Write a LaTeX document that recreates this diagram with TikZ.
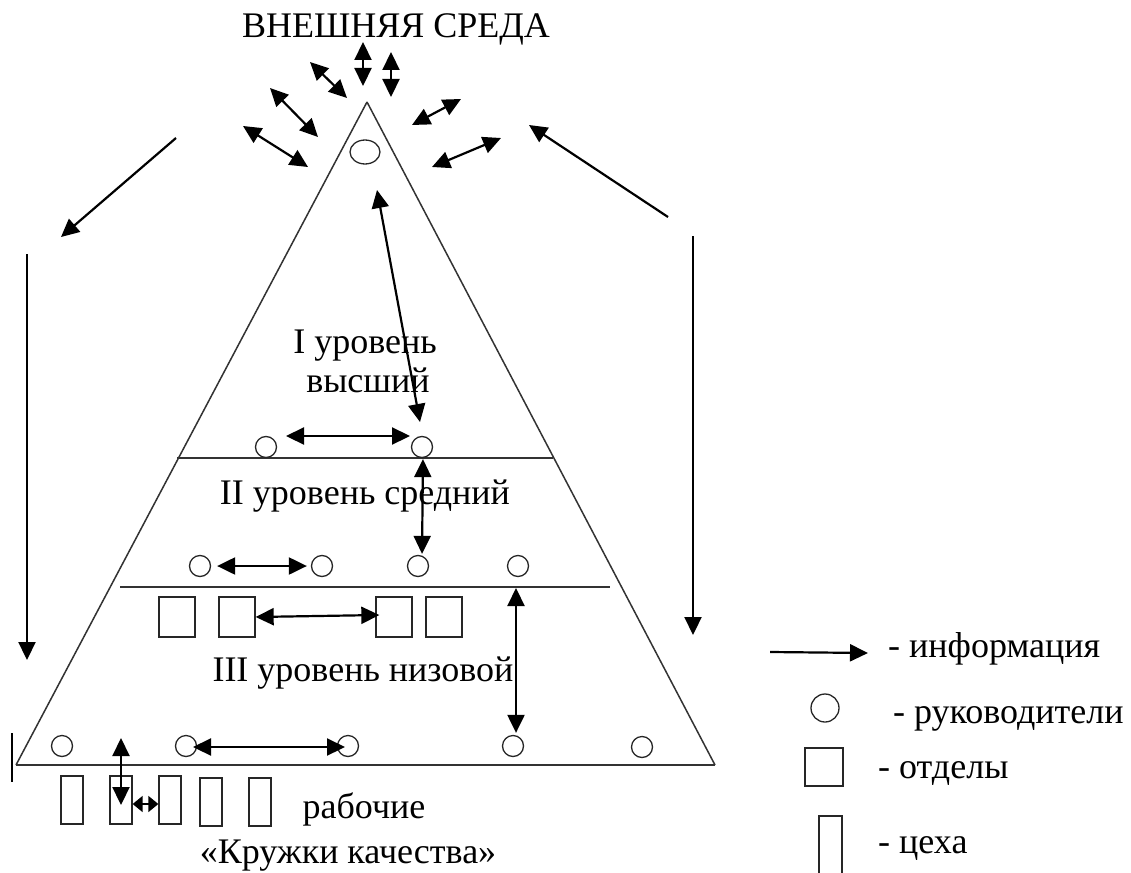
\documentclass[tikz,border=0pt]{standalone}
\usepackage{fontspec}
\setmainfont{Liberation Serif}
\usetikzlibrary{arrows.meta,shapes.geometric}
\begin{document}
\begin{tikzpicture}[x=1pt,y=-1pt,
  frame/.style={line width=1.5pt, draw=black!80},
  info/.style={line width=2.2pt, -{Triangle[length=18pt,width=17pt]}},
  both/.style={line width=2.2pt, {Triangle[length=18pt,width=17pt]}-{Triangle[length=18pt,width=17pt]}},
  tiny/.style={line width=1.6pt, {Triangle[length=10pt,width=16pt]}-{Triangle[length=10pt,width=16pt]}},
  ruk/.style={circle, draw=black!85, line width=1.3pt, minimum size=21pt, inner sep=0pt},
  otd/.style={rectangle, draw=black!85, line width=1.3pt, minimum width=36pt, minimum height=40pt, inner sep=0pt},
  ceh/.style={rectangle, draw=black!85, line width=1.3pt, minimum width=22pt, minimum height=48pt, inner sep=0pt},
  lbl/.style={font=\fontsize{36}{42}\selectfont, inner sep=0pt},
]
\useasboundingbox (0,0) rectangle (1131,872);

% pyramid and level boundaries
\draw[frame] (367,102) -- (16,765);
\draw[frame] (367,102) -- (715,765);
\draw[frame] (177,458) -- (553,458);
\draw[frame] (120,587) -- (610,587);
\draw[frame, line width=2pt] (16,765) -- (715,765);
\draw[line width=2.6pt] (12,733) -- (12,782);

% title
\node[lbl, anchor=base] (env) at (396,37.5) {ВНЕШНЯЯ СРЕДА};

% top manager
\node[ellipse, draw=black!85, line width=1.3pt, minimum width=30pt, minimum height=24pt, inner sep=0pt] (top) at (365,152) {};

% exchange with the environment
\coordinate (t1a) at (363,42);  \coordinate (t1b) at (363,86);
\coordinate (t2a) at (391,52);  \coordinate (t2b) at (391,97);
\coordinate (t3a) at (310,62);  \coordinate (t3b) at (347,98);
\coordinate (t4a) at (270,88);  \coordinate (t4b) at (318,137);
\coordinate (t5a) at (243,126); \coordinate (t5b) at (308,167);
\coordinate (t6a) at (412,125); \coordinate (t6b) at (461,99);
\coordinate (t7a) at (432,167); \coordinate (t7b) at (501,138);
\foreach \k in {1,...,7} \draw[both] (t\k a) -- (t\k b);

% large flows around the pyramid
\coordinate (la) at (176,138); \coordinate (lb) at (61,237);
\coordinate (lc) at (27,254);  \coordinate (ld) at (27,660);
\coordinate (ra) at (668,217); \coordinate (rb) at (529,125);
\coordinate (rc) at (693,236); \coordinate (rd) at (693,635);
\draw[info] (la) -- (lb);
\draw[info] (lc) -- (ld);
\draw[info] (ra) -- (rb);
\draw[info] (rc) -- (rd);

% level I
\node[lbl, anchor=base] (l1a) at (365,353) {I уровень};
\node[lbl, anchor=base] (l1b) at (368,392) {высший};
\node[ruk] (c1a) at (266,447) {};
\node[ruk] (c1b) at (422,447) {};
\draw[both] ([shift={(20,-11)}]c1a.center) -- ([shift={(-12,-11)}]c1b.center);
\draw[both] ([shift={(12,38)}]top.center) -- ([shift={(-2,-25)}]c1b.center);

% level II
\node[lbl, anchor=base] (l2) at (365,504) {II уровень средний};
\node[ruk] (c2a) at (200,566) {};
\node[ruk] (c2b) at (322,566) {};
\node[ruk] (c2c) at (418,566) {};
\node[ruk] (c2d) at (518,566) {};
\draw[both] ([xshift=6]c2a.east) -- ([xshift=-4]c2b.west);
\draw[both] ([xshift=1,yshift=-1]c1b.south) -- ([xshift=4,yshift=1]c2c.north);

% level III
\node[otd] (s1) at (177,617) {};
\node[otd] (s2) at (237,617) {};
\node[otd] (s3) at (394,617) {};
\node[otd] (s4) at (444,617) {};
\draw[both] (s2.east) -- ([xshift=4,yshift=2]s3.west);
\node[lbl, anchor=base] (l3) at (363,681) {III уровень низовой};
\node[ruk] (c3a) at (62,746) {};
\node[ruk] (c3b) at (186,746) {};
\node[ruk] (c3c) at (348,746) {};
\node[ruk] (c3d) at (513,746) {};
\node[ruk] (c3e) at (642,747) {};
\coordinate (k3) at (516,588);
\draw[both] (k3) -- ([xshift=3,yshift=2]c3d.north);
\draw[both] ([xshift=7,yshift=-1]c3b.center) -- ([xshift=-3,yshift=-1]c3c.center);

% workshops
\node[ceh] (r1) at (72,800) {};
\node[ceh] (r2) at (121,800) {};
\node[ceh] (r3) at (170,800) {};
\node[ceh] (r4) at (211,802) {};
\node[ceh] (r5) at (260,802) {};
\coordinate (w0) at (121,738);
\draw[both] (w0) -- ([yshift=-5]r2.center);
\draw[tiny] ([yshift=-4]r2.east) -- ([yshift=-4]r3.west);
\node[lbl, anchor=base] (wk) at (364,818) {рабочие};
\node[lbl, anchor=base] (qc) at (348,863) {«Кружки качества»};

% legend
\coordinate (ga) at (770,652); \coordinate (gb) at (868,653);
\draw[info] (ga) -- (gb);
\node[lbl, anchor=base west] (g1) at (888,657) {- информация};
\node[ruk, minimum size=28pt] (gc) at (825,708) {};
\node[lbl, anchor=base west] (g2) at (893,723) {- руководители};
\node[otd, minimum width=38pt, minimum height=38pt] (gs) at (824,767) {};
\node[lbl, anchor=base west] (g3) at (878,778) {- отделы};
\node[ceh, minimum width=23pt, minimum height=60pt] (gr) at (830.5,846) {};
\node[lbl, anchor=base west] (g4) at (878,853) {- цеха};
\end{tikzpicture}
\end{document}
